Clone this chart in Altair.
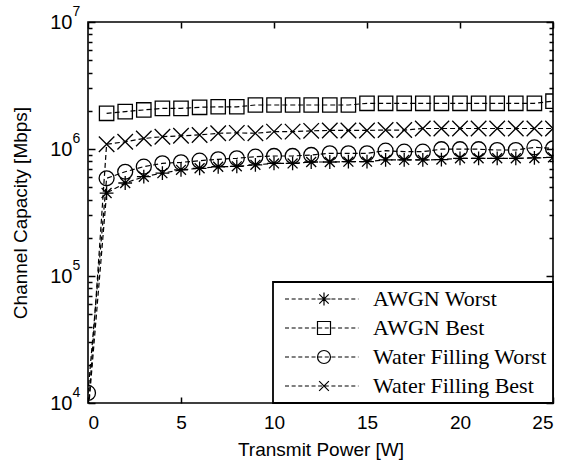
import altair as alt
import pandas as pd
import numpy as np

# ---------------- data ----------------
power = list(range(0, 26))
series_names = ["AWGN Worst", "AWGN Best", "Water Filling Worst", "Water Filling Best"]

awgn_worst = [8.0e3, 4.5e5, 5.4e5, 6.05e5, 6.45e5, 6.85e5, 7.05e5, 7.25e5, 7.3e5, 7.5e5,
              7.7e5, 7.7e5, 7.9e5, 7.9e5, 7.95e5, 7.95e5, 8.2e5, 8.2e5, 8.2e5, 8.25e5,
              8.45e5, 8.45e5, 8.45e5, 8.45e5, 8.5e5, 8.6e5]
awgn_best = [None, 1.91e6, 1.97e6, 2.03e6, 2.09e6, 2.09e6, 2.13e6, 2.15e6, 2.15e6, 2.22e6,
             2.22e6, 2.22e6, 2.22e6, 2.22e6, 2.22e6, 2.29e6, 2.29e6, 2.29e6, 2.29e6, 2.29e6,
             2.29e6, 2.29e6, 2.29e6, 2.29e6, 2.29e6, 2.38e6]
wf_worst = [1.2e4, 5.88e5, 6.62e5, 7.26e5, 7.71e5, 7.85e5, 8.09e5, 8.3e5, 8.45e5, 8.7e5,
            8.81e5, 8.81e5, 8.97e5, 9.25e5, 9.25e5, 9.25e5, 9.7e5, 9.53e5, 9.53e5, 9.96e5,
            9.96e5, 9.96e5, 9.82e5, 9.82e5, 1.03e6, 1.01e6]
wf_best = [8.0e3, 1.09e6, 1.14e6, 1.21e6, 1.25e6, 1.27e6, 1.29e6, 1.33e6, 1.34e6, 1.33e6,
           1.37e6, 1.37e6, 1.39e6, 1.40e6, 1.40e6, 1.40e6, 1.41e6, 1.41e6, 1.45e6, 1.45e6,
           1.45e6, 1.45e6, 1.45e6, 1.45e6, 1.45e6, 1.45e6]

x_ticks = [0, 5, 10, 15, 20, 25]
y_major = [1e4, 1e5, 1e6, 1e7]
y_minor = [m * 10 ** k for k in (4, 5, 6) for m in range(2, 10)]

rows = []
for name, vals in zip(series_names, [awgn_worst, awgn_best, wf_worst, wf_best]):
    for p, v in zip(power, vals):
        if v is not None:
            rows.append({"power": p, "capacity": v, "series": name})
df = pd.DataFrame(rows)

# ---------------- styling ----------------
W, H = 465, 381
SANS = "Liberation Sans"
SERIF = "Liberation Serif"

marker_paths = {
    "AWGN Worst": "M0,-1L0,1M-1,0L1,0M-0.72,-0.72L0.72,0.72M-0.72,0.72L0.72,-0.72",
    "AWGN Best": "square",
    "Water Filling Worst": "circle",
    "Water Filling Best": "M-1,-1L1,1M-1,1L1,-1",
}
marker_sizes = [190, 240, 225, 90]

unit_marks = {
    "AWGN Worst": "M0,-1L0,1M-1,0L1,0M-0.72,-0.72L0.72,0.72M-0.72,0.72L0.72,-0.72",
    "AWGN Best": "M-1,-1L1,-1L1,1L-1,1Z",
    "Water Filling Worst": "M1,0A1,1,0,1,1,-1,0A1,1,0,1,1,1,0Z",
    "Water Filling Best": "M-0.75,-0.75L0.75,0.75M-0.75,0.75L0.75,-0.75",
}


def dash_path(x0, x1, dash, gap):
    segs = []
    t = x0
    while t < x1:
        e = min(t + dash, x1)
        segs.append(f"M{t:.3f},0L{e:.3f},0")
        t += dash + gap
    return "".join(segs)


dline = dash_path(-6.0, 5.3, 0.62, 0.40)
legend_paths = [dline + unit_marks[n] for n in series_names]

tick_test = "indexof([10000,100000,1000000,10000000], datum.value) >= 0"
ytick_size = {"condition": {"test": tick_test, "value": 7}, "value": 4}

x_scale = alt.Scale(domain=[0, 25], nice=False, zero=False)
y_scale = alt.Scale(type="log", domain=[1e4, 1e7], nice=False)

base = alt.Chart(df)

# lines (bottom x labels, left y "10" labels)
lines = base.mark_line(color="black", strokeWidth=1.2, strokeDash=[5, 3], clip=True).encode(
    x=alt.X("power:Q", scale=x_scale,
            axis=alt.Axis(orient="bottom", values=x_ticks, ticks=False, domain=False, grid=False,
                          labelFont=SANS, labelFontSize=19, labelColor="black", labelPadding=10,
                          title="Transmit Power [W]", titleFont=SANS, titleFontSize=19,
                          titleFontWeight="normal", titleColor="black", titlePadding=8)),
    y=alt.Y("capacity:Q", scale=y_scale,
            axis=alt.Axis(orient="left", values=y_major, labelExpr="'10'", ticks=False, domain=False,
                          grid=False, labelFont=SANS, labelFontSize=20, labelColor="black",
                          labelPadding=16, labelBaseline="middle",
                          title="Channel Capacity [Mbps]", titleFont=SANS, titleFontSize=19,
                          titleFontWeight="normal", titleColor="black", titlePadding=19)),
    detail="series:N",
)

# markers (inward ticks at bottom, exponent labels)
points = base.mark_point(filled=False, color="black", strokeWidth=1.3, opacity=1, clip=True).encode(
    x=alt.X("power:Q", scale=x_scale,
            axis=alt.Axis(orient="top", offset=-H, values=x_ticks, labels=False, domain=False,
                          grid=False, tickSize=6, tickWidth=1.5, tickColor="black", title=None)),
    y=alt.Y("capacity:Q", scale=y_scale,
            axis=alt.Axis(orient="left", values=y_major,
                          labelExpr="format(round(log(datum.value)/LN10), 'd')", ticks=False,
                          domain=False, grid=False, labelFont=SANS, labelFontSize=14,
                          labelColor="black", labelPadding=16, labelAlign="left",
                          labelBaseline="middle", labelOffset=-11, title=None)),
    shape=alt.Shape("series:N", scale=alt.Scale(domain=series_names,
                                                range=[marker_paths[n] for n in series_names]),
                    legend=None),
    size=alt.Size("series:N", scale=alt.Scale(domain=series_names, range=marker_sizes), legend=None),
)

# legend carrier (inward ticks top, inward ticks left)
legend_layer = base.mark_point(filled=False, color="black", opacity=0, clip=True).encode(
    x=alt.X("power:Q", scale=x_scale,
            axis=alt.Axis(orient="bottom", offset=-H, values=x_ticks, labels=False, domain=False,
                          grid=False, tickSize=6, tickWidth=1.5, tickColor="black", title=None)),
    y=alt.Y("capacity:Q", scale=y_scale,
            axis=alt.Axis(orient="right", offset=-W, values=y_major + y_minor, labels=False,
                          domain=False, grid=False, tickSize=ytick_size, tickWidth=1.5,
                          tickColor="black", title=None)),
    shape=alt.Shape("series:N", scale=alt.Scale(domain=series_names, range=legend_paths),
                    legend=alt.Legend(orient="bottom-right", offset=0, title=None,
                                      strokeColor="black", fillColor="white", padding=6,
                                      cornerRadius=0, labelFont=SERIF, labelFontSize=22,
                                      labelColor="black", labelLimit=0, symbolSize=169,
                                      symbolStrokeWidth=1.2, symbolStrokeColor="black",
                                      symbolOpacity=1, symbolOffset=34, labelOffset=38,
                                      rowPadding=7)),
)

# inward ticks on the right edge
right_ticks = base.mark_point(opacity=0, clip=True).encode(
    x=alt.X("power:Q", scale=x_scale, axis=None),
    y=alt.Y("capacity:Q", scale=y_scale,
            axis=alt.Axis(orient="left", offset=-W, values=y_major + y_minor, labels=False,
                          domain=False, grid=False, tickSize=ytick_size, tickWidth=1.5,
                          tickColor="black", title=None)),
)

chart = alt.layer(lines, points, legend_layer, right_ticks).resolve_axis(
    x="independent", y="independent"
).resolve_scale(shape="independent", size="independent").properties(
    width=W, height=H,
    autosize=alt.AutoSizeParams(type="none"),
    padding={"left": 88, "top": 22, "right": 14, "bottom": 64},
    background="white",
).configure_view(stroke="black", strokeWidth=1.6).configure_legend(strokeWidth=1.8)

chart.save("out.html", embed_options={"renderer": "svg", "actions": False})
